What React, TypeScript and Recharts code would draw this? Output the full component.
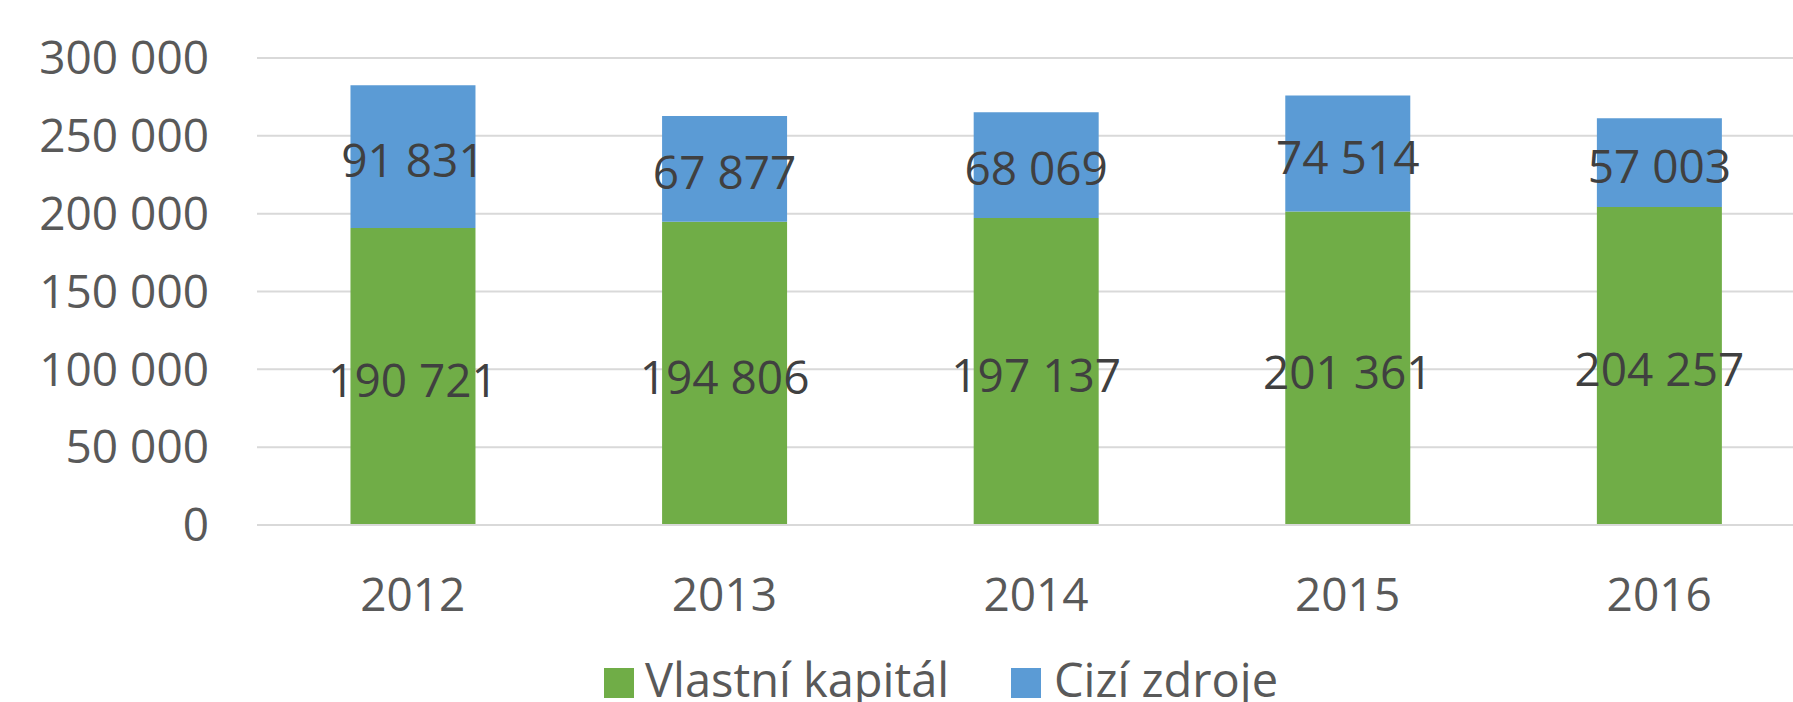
import React from 'react';
import {
  BarChart,
  Bar,
  XAxis,
  YAxis,
  CartesianGrid,
  LabelList
} from 'recharts';

const years = ['2012', '2013', '2014', '2015', '2016'];
const vlastniKapital = [190721, 194806, 197137, 201361, 204257];
const ciziZdroje = [91831, 67877, 68069, 74514, 57003];
const yTicks = [0, 50000, 100000, 150000, 200000, 250000, 300000];

const GREEN = '#70AD47';
const BLUE = '#5B9BD5';
const FONT = '"Open Sans", sans-serif';

const data = years.map((year, i) => ({
  year,
  vlastni: vlastniKapital[i],
  cizi: ciziZdroje[i]
}));

const fmt = (v: number | string) =>
  String(v).replace(/\B(?=(\d{3})+(?!\d))/g, ' ');

const labelStyle = { fontSize: 46, fill: '#404040', fontFamily: FONT };

const legendText: React.CSSProperties = {
  position: 'absolute',
  top: 647,
  fontSize: 47,
  lineHeight: 'normal',
  color: '#595959',
  whiteSpace: 'nowrap'
};

export default function App() {
  return (
    <div
      style={{
        position: 'fixed',
        top: 0,
        left: 0,
        width: 1793,
        height: 702,
        overflow: 'hidden',
        background: '#fff',
        fontFamily: FONT
      }}
    >
      <BarChart
        width={1830}
        height={702}
        data={data}
        margin={{ top: 58, right: 15, bottom: 0, left: 0 }}
        barCategoryGap="30%"
      >
        <CartesianGrid vertical={false} stroke="#d9d9d9" strokeWidth={2} />
        <XAxis
          dataKey="year"
          axisLine={{ stroke: '#d9d9d9', strokeWidth: 2 }}
          tickLine={false}
          tickSize={0}
          tickMargin={53}
          height={177}
          tick={{ fontSize: 46, fill: '#595959', fontFamily: FONT }}
        />
        <YAxis
          width={257}
          domain={[0, 300000]}
          ticks={yTicks}
          axisLine={false}
          tickLine={false}
          tickSize={0}
          tickMargin={48}
          tickFormatter={fmt}
          tick={{ fontSize: 46, fill: '#595959', fontFamily: FONT }}
        />
        <Bar dataKey="vlastni" stackId="a" fill={GREEN} isAnimationActive={false}>
          <LabelList dataKey="vlastni" position="center" formatter={fmt} style={labelStyle} dy={4} />
        </Bar>
        <Bar dataKey="cizi" stackId="a" fill={BLUE} isAnimationActive={false}>
          <LabelList dataKey="cizi" position="center" formatter={fmt} style={labelStyle} dy={4} />
        </Bar>
      </BarChart>
      <div style={{ position: 'absolute', left: 604, top: 668, width: 30, height: 30, background: GREEN }} />
      <div style={{ ...legendText, left: 645 }}>Vlastní kapitál</div>
      <div style={{ position: 'absolute', left: 1011, top: 668, width: 30, height: 30, background: BLUE }} />
      <div style={{ ...legendText, left: 1054 }}>Cizí zdroje</div>
    </div>
  );
}
